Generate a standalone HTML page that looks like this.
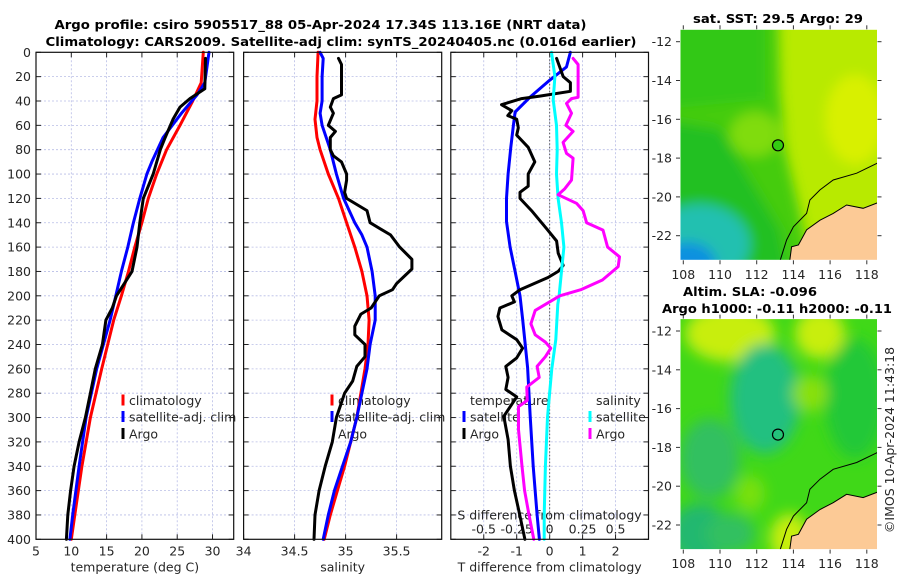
<!DOCTYPE html>
<html><head><meta charset="utf-8"><style>
html,body{margin:0;padding:0;background:#fff;}
svg{display:block;font-family:"DejaVu Sans","Liberation Sans",sans-serif;}
</style></head><body>
<svg id="fig" width="900" height="580" viewBox="0 0 900 580" xmlns="http://www.w3.org/2000/svg">
<defs>
<filter id="blur1" x="-20%" y="-20%" width="140%" height="140%"><feGaussianBlur stdDeviation="6"/></filter>
<filter id="blur2" x="-20%" y="-20%" width="140%" height="140%"><feGaussianBlur stdDeviation="7"/></filter>
<clipPath id="clipMap1"><rect x="680" y="29" width="197.5" height="231"/></clipPath>
<clipPath id="clipMap2"><rect x="680" y="318.5" width="198" height="231.5"/></clipPath>
</defs>
<text x="320.5" y="29" text-anchor="middle" font-weight="bold" font-size="12.5" textLength="532" lengthAdjust="spacingAndGlyphs">Argo profile: csiro 5905517_88 05-Apr-2024 17.34S 113.16E (NRT data)</text>
<text x="341" y="46" text-anchor="middle" font-weight="bold" font-size="12.5" textLength="591" lengthAdjust="spacingAndGlyphs">Climatology: CARS2009. Satellite-adj clim: synTS_20240405.nc (0.016d earlier)</text>
<g id="panels"></g>
<g id="maps"></g>
<text transform="translate(894,440) rotate(-90)" text-anchor="middle" font-size="12.5" fill="#262626">©IMOS 10-Apr-2024 11:43:18</text>
</svg>
<script>
// ---------- DATA ----------
const depthTicks=[0,20,40,60,80,100,120,140,160,180,200,220,240,260,280,300,320,340,360,380,400];
const tempTicks=[5,10,15,20,25,30];
const salTicks=[34,34.5,35,35.5];
const salTickLabels=["34","34.5","35","35.5"];
const tdiffTicks=[-2,-1,0,1,2];
const sdiffTicks=[-0.5,-0.25,0,0.25,0.5];
const sdiffTickLabels=["-0.5","-0.25","0","0.25","0.5"];

const argoTD=[5,30,38,45,55,70,80,100,120,140,160,180,190,200,210,220,240,260,280,300,320,340,360,380,400];
const argoT=[29.0,28.9,26.8,25.4,24.4,23.3,22.6,21.6,20.2,19.7,19.3,18.6,17.5,16.4,15.8,14.9,14.4,13.4,12.7,12.0,11.1,10.4,9.9,9.5,9.3];
const climTD=[0,25,40,60,80,100,120,140,160,180,200,220,260,300,340,380,400];
const climT=[28.7,28.4,27.2,25.4,23.5,22.1,20.9,20.0,19.0,18.1,17.1,16.0,14.3,12.7,11.5,10.5,10.0];
const satTD=[0,25,35,50,70,90,100,120,140,160,180,200,220,260,300,340,380,400];
const satT=[29.5,28.9,27.8,25.6,23.0,21.4,20.7,19.7,18.8,18.0,17.1,16.3,15.5,13.6,12.1,11.1,10.2,9.8];

const argoSD=[5,10,35,38,45,50,60,65,70,80,85,90,100,105,115,120,125,130,140,150,160,170,178,190,195,200,210,215,225,232,240,250,258,270,280,290,300,320,340,360,380,400];
const argoS=[34.93,34.96,34.96,34.88,34.85,34.88,34.83,34.90,34.85,34.85,34.88,34.96,35.01,35.01,34.99,35.01,35.11,35.21,35.24,35.44,35.53,35.65,35.65,35.50,35.46,35.33,35.25,35.15,35.09,35.09,35.19,35.19,35.11,35.07,34.99,34.95,34.91,34.87,34.80,34.74,34.70,34.69];
const climSD=[0,20,40,55,70,80,100,120,140,160,180,200,220,240,260,280,300,320,340,360,380,400];
const climS=[34.73,34.72,34.72,34.70,34.72,34.75,34.83,34.93,35.01,35.09,35.16,35.21,35.23,35.22,35.19,35.15,35.11,35.05,34.99,34.92,34.85,34.79];
const satSD=[0,5,20,40,50,60,80,100,120,140,150,160,180,200,220,240,260,280,300,320,340,360,380,400];
const satS=[34.75,34.78,34.77,34.77,34.75,34.77,34.85,34.91,34.98,35.09,35.16,35.21,35.26,35.29,35.29,35.24,35.21,35.16,35.11,35.05,34.97,34.89,34.83,34.78];

const argoDTd=[5,20,25,32,36,38,43,48,52,55,62,68,78,90,100,110,115,120,130,145,155,165,175,180,185,195,200,205,210,217,228,236,243,251,258,267,277,283,299,318,340,360,376,400];
const argoDT=[0.21,0.41,0.63,0.63,-0.30,-0.85,-1.46,-1.15,-1.27,-1.0,-0.95,-1.0,-0.65,-0.45,-0.65,-0.65,-0.9,-0.9,-0.55,-0.09,0.21,0.26,0.41,0.26,-0.05,-0.9,-1.15,-1.07,-1.51,-1.57,-1.45,-1.0,-0.82,-1.0,-1.33,-1.26,-1.33,-1.0,-1.39,-1.26,-1.19,-1.07,-0.94,-0.75];
const satDTd=[0,12,23,37,49,60,78,100,120,139,160,180,200,219,259,299,340,380,400];
const satDT=[0.63,0.51,0,-0.6,-1.05,-1.1,-1.18,-1.26,-1.31,-1.31,-1.2,-1.05,-0.9,-0.82,-0.67,-0.59,-0.50,-0.38,-0.31];
const satDSd=[0,20,39,60,80,100,120,140,160,180,200,207,236,260,280,300,340,380,400];
const satDS=[0.014,0.04,0.027,0.052,0.057,0.052,0.064,0.09,0.108,0.09,0.072,0.062,0.047,0.016,0,-0.016,-0.032,-0.041,-0.041];
const argoDSd=[5,10,37,38,42,50,60,65,74,83,87,105,112,117,124,130,140,146,160,168,176,187,195,200,212,223,232,238,243,250,258,267,275,286,291,310,340,360,380,400];
const argoDS=[0.178,0.216,0.216,0.166,0.128,0.166,0.123,0.178,0.102,0.128,0.178,0.166,0.115,0.064,0.204,0.254,0.28,0.405,0.44,0.53,0.52,0.40,0.236,0.077,-0.11,-0.142,-0.11,-0.032,0.009,-0.032,-0.095,-0.079,-0.173,-0.17,-0.236,-0.236,-0.21,-0.19,-0.157,-0.12];

const mapLonTicks=[108,110,112,114,116,118];
const mapLatTicks=[-12,-14,-16,-18,-20,-22];
const argoLon=113.16, argoLat=-17.34;
const coastLon=[118.6,117.45,116.17,115.45,114.9,114.72,114.0,113.63,113.27];
const coastLat=[-18.25,-18.78,-19.13,-19.64,-20.16,-20.85,-21.54,-22.22,-23.3];
const landLon=[118.6,117.8,116.9,116.17,115.45,114.72,114.27,113.9,113.8];
const landLat=[-20.3,-20.59,-20.42,-20.85,-21.2,-21.7,-22.48,-22.57,-23.3];

// ---------- HELPERS ----------
const NS="http://www.w3.org/2000/svg";
function mk(tag,attrs,parent){const e=document.createElementNS(NS,tag);for(const k in attrs)e.setAttribute(k,attrs[k]);parent.appendChild(e);return e;}
const Y0=52.3,Y1=539.3;
const yD=d=>Y0+(d/400)*(Y1-Y0);
function linScale(d0,d1,r0,r1){return v=>r0+(v-d0)/(d1-d0)*(r1-r0);}
const panelsG=document.getElementById('panels');
const mapsG=document.getElementById('maps');

function frame(g,x0,x1,xs,ticks,labels,showY,title,name){
  ticks.forEach(t=>{const x=xs(t);if(x>x0+1&&x<x1-1){const l=mk('line',{x1:x,x2:x,y1:Y0,y2:Y1,stroke:'#b8bde6','stroke-width':0.8,'stroke-dasharray':'2,2'},g);
  
  }});
  depthTicks.forEach(d=>{const y=yD(d);if(d>0&&d<400){const l=mk('line',{x1:x0,x2:x1,y1:y,y2:y,stroke:'#b8bde6','stroke-width':0.8,'stroke-dasharray':'2,2'},g);
  
  }
  mk('line',{x1:x0,x2:x0+5,y1:y,y2:y,stroke:'#222','stroke-width':1},g);
  mk('line',{x1:x1-5,x2:x1,y1:y,y2:y,stroke:'#222','stroke-width':1},g);
  if(showY){const t=mk('text',{x:31,y:y,'text-anchor':'end','dominant-baseline':'central','font-size':12.5,fill:'#262626'},g);t.textContent=d;
  
  }});
  ticks.forEach((t,i)=>{const x=xs(t);
    mk('line',{x1:x,x2:x,y1:Y1,y2:Y1-5,stroke:'#222','stroke-width':1},g);
    mk('line',{x1:x,x2:x,y1:Y0,y2:Y0+5,stroke:'#222','stroke-width':1},g);
    const tx=mk('text',{x:x,y:551,'text-anchor':'middle','dominant-baseline':'central','font-size':12.5,fill:'#262626'},g);tx.textContent=labels[i];
    
    });
  const tt=mk('text',{x:(x0+x1)/2,y:567,'text-anchor':'middle','dominant-baseline':'central','font-size':12.5,fill:'#262626'},g);tt.textContent=title;
  
  
}
function border(g,x0,x1,name){const r=mk('rect',{x:x0,y:Y0,width:x1-x0,height:Y1-Y0,fill:'none',stroke:'#111','stroke-width':1.2},g);
  
  }
function series(g,ds,vs,xs,color,name){
  const pts=ds.map((d,i)=>xs(vs[i]).toFixed(1)+','+yD(d).toFixed(1)).join(' ');
  const p=mk('polyline',{points:pts,fill:'none',stroke:color,'stroke-width':3,'stroke-linejoin':'round','stroke-linecap':'round'},g);
  
  
}
function legendEntry(g,x,y,color,label,name){
  if(color){mk('line',{x1:x,x2:x,y1:y-6,y2:y+5,stroke:color,'stroke-width':3},g);}
  const t=mk('text',{x:x+6,y:y,'dominant-baseline':'central','font-size':12.5,fill:'#262626'},g);t.textContent=label;
  
  
}

// ---------- PANEL 1 ----------
const g1=mk('g',{},panelsG);


const xT=linScale(5,33,36,233.7);
frame(g1,36,233.7,xT,tempTicks,tempTicks.map(String),true,'temperature (deg C)','temperature');
legendEntry(g1,123,400.5,'#ff0000','climatology','legend-climatology');
legendEntry(g1,123,417,'#0000ff','satellite-adj. clim','legend-satellite');
legendEntry(g1,123,434,'#000','Argo','legend-argo');
series(g1,climTD,climT,xT,'#ff0000','temp-climatology-line');
series(g1,satTD,satT,xT,'#0000ff','temp-satellite-line');
series(g1,argoTD,argoT,xT,'#000','temp-argo-line');
border(g1,36,233.7,'temperature');

// ---------- PANEL 2 ----------
const g2=mk('g',{},panelsG);


const xS=linScale(34,35,243.6,345.6);
frame(g2,243.6,441.7,xS,salTicks,salTickLabels,false,'salinity','salinity');
legendEntry(g2,332,400.5,'#ff0000','climatology','legend-climatology-s');
legendEntry(g2,332,417,'#0000ff','satellite-adj. clim','legend-satellite-s');
legendEntry(g2,332,434,null,'Argo','legend-argo-s');
series(g2,climSD,climS,xS,'#ff0000','sal-climatology-line');
series(g2,satSD,satS,xS,'#0000ff','sal-satellite-line');
series(g2,argoSD,argoS,xS,'#000','sal-argo-line');
border(g2,243.6,441.7,'salinity');

// ---------- PANEL 3 ----------
const g3=mk('g',{},panelsG);


const xDT=linScale(-3,3,450.8,648.5);
const xDS=linScale(-0.75,0.75,450.8,648.5);
frame(g3,450.8,648.5,xDT,tdiffTicks,tdiffTicks.map(String),false,'T difference from climatology','tdiff');
const zl=mk('line',{x1:xDT(0),x2:xDT(0),y1:Y0,y2:Y1,stroke:'#555','stroke-width':1,'stroke-dasharray':'1.5,2'},g3);


legendEntry(g3,464,400.5,null,'temperature','legend-temperature-header');
legendEntry(g3,464,417,'#0000ff','satellite','legend-t-satellite');
legendEntry(g3,464,434,'#000','Argo','legend-t-argo');
legendEntry(g3,590,400.5,null,'salinity','legend-salinity-header');
legendEntry(g3,590,417,'#00ffff','satellite','legend-s-satellite');
legendEntry(g3,590,434,'#ff00ff','Argo','legend-s-argo');
const st=mk('text',{x:549.5,y:515,'text-anchor':'middle','dominant-baseline':'central','font-size':12.5,fill:'#262626'},g3);st.textContent='S difference from climatology';


sdiffTicks.forEach((t,i)=>{const tx=mk('text',{x:xDS(t),y:529,'text-anchor':'middle','dominant-baseline':'central','font-size':12.5,fill:'#262626'},g3);tx.textContent=sdiffTickLabels[i];
  
  });
series(g3,satDTd,satDT,xDT,'#0000ff','tdiff-satellite-line');
series(g3,argoDTd,argoDT,xDT,'#000','tdiff-argo-line');
series(g3,satDSd,satDS,xDS,'#00ffff','sdiff-satellite-line');
series(g3,argoDSd,argoDS,xDS,'#ff00ff','sdiff-argo-line');
border(g3,450.8,648.5,'difference');

// ---------- MAPS ----------
function drawMap(top,clip,kind,name){
  const g=mk('g',{},mapsG);
  
  
  const L=680,R=L+197.5,B=top+231;
  const lonX=linScale(108,110,683.3,720);
  const latY=linScale(-12,-22,top+12.4,top+206.4);
  const ig=mk('g',{'clip-path':'url(#'+clip+')'},g);
  if(kind===1){
    mk('rect',{x:L,y:top,width:198,height:232,fill:'#b8ea00'},ig);
    const bg=mk('g',{filter:'url(#blur1)'},ig);
    mk('polygon',{points:`${L-20},${top-20} ${L+98},${top-20} ${L+100},${top+60} ${L+105},${top+120} ${L+118},${top+175} ${L+135},${top+250} ${L-20},${top+250}`,fill:'#44cc10'},bg);
    mk('polygon',{points:`${L-20},${top-20} ${L+85},${top-20} ${L+85},${top+70} ${L-20},${top+80}`,fill:'#30c818'},bg);
    mk('polygon',{points:`${L-20},${top+90} ${L+40},${top+100} ${L+70},${top+150} ${L+100},${top+200} ${L+110},${top+250} ${L-20},${top+250}`,fill:'#22c020'},bg);
    mk('ellipse',{cx:L+75,cy:top+105,rx:25,ry:22,fill:'#80dc10'},bg);
    mk('ellipse',{cx:L+20,cy:top+215,rx:50,ry:40,fill:'#20c0b0'},bg);
    mk('ellipse',{cx:L+8,cy:top+235,rx:28,ry:22,fill:'#1090e0'},bg);
    mk('ellipse',{cx:L+175,cy:top+90,rx:30,ry:45,fill:'#d8f000'},bg);
  } else {
    mk('rect',{x:L,y:top,width:198,height:232,fill:'#40d818'},ig);
    const bg=mk('g',{filter:'url(#blur2)'},ig);
    mk('ellipse',{cx:L+50,cy:top+15,rx:45,ry:28,fill:'#c8ee10'},bg);
    mk('ellipse',{cx:L+140,cy:top+15,rx:25,ry:25,fill:'#c8ee10'},bg);
    mk('ellipse',{cx:L+85,cy:top+80,rx:35,ry:55,fill:'#22c080'},bg);
    mk('ellipse',{cx:L+30,cy:top+140,rx:30,ry:40,fill:'#30c060'},bg);
    mk('ellipse',{cx:L+20,cy:top+215,rx:30,ry:30,fill:'#20b870'},bg);
    mk('ellipse',{cx:L+50,cy:top+215,rx:25,ry:20,fill:'#30c060'},bg);
    mk('ellipse',{cx:L+175,cy:top+80,rx:30,ry:60,fill:'#20c838'},bg);
    mk('ellipse',{cx:L+130,cy:top+75,rx:18,ry:18,fill:'#88e010'},bg);
    mk('ellipse',{cx:L+70,cy:top+175,rx:15,ry:18,fill:'#78e010'},bg);
    mk('ellipse',{cx:L+110,cy:top+220,rx:20,ry:25,fill:'#c8ee10'},bg);
  }
  const landPts=landLon.map((lo,i)=>lonX(lo).toFixed(1)+','+latY(landLat[i]).toFixed(1));
  const land=mk('polygon',{points:landPts.join(' ')+` ${R+5},${B+5} ${R+5},${latY(landLat[0])}`,fill:'#fcca96'},ig);
  
  
  mk('polyline',{points:landPts.join(' '),fill:'none',stroke:'#000','stroke-width':1},ig);
  const cl=mk('polyline',{points:coastLon.map((lo,i)=>lonX(lo).toFixed(1)+','+latY(coastLat[i]).toFixed(1)).join(' '),fill:'none',stroke:'#000','stroke-width':1},ig);
  
  
  const mark=mk('circle',{cx:lonX(argoLon),cy:latY(argoLat),r:5.5,fill:kind===1?'#33cc11':'none',stroke:'#000','stroke-width':1.2},g);
  
  
  mk('rect',{x:L,y:top,width:197.5,height:231,fill:'none',stroke:'#fff','stroke-width':1},g);
  mapLonTicks.forEach(lo=>{const x=lonX(lo);
    mk('line',{x1:x,x2:x,y1:B,y2:B+4,stroke:'#333'},g);
    mk('line',{x1:x,x2:x,y1:top,y2:top-4,stroke:'#333'},g);
    const t=mk('text',{x:x,y:B+14,'text-anchor':'middle','dominant-baseline':'central','font-size':12.5,fill:'#262626'},g);t.textContent=lo;
    
    });
  mapLatTicks.forEach(la=>{const y=latY(la);
    mk('line',{x1:L,x2:L-4,y1:y,y2:y,stroke:'#333'},g);
    mk('line',{x1:R,x2:R+4,y1:y,y2:y,stroke:'#333'},g);
    const t=mk('text',{x:672,y:y,'text-anchor':'end','dominant-baseline':'central','font-size':12.5,fill:'#262626'},g);t.textContent=la;
    
    });
  return {g,L,R,top};
}
const m1=drawMap(29.3,'clipMap1',1,'sst-map');
const t1=mk('text',{x:778,y:23,'text-anchor':'middle','font-weight':'bold','font-size':12.5,textLength:170,lengthAdjust:'spacingAndGlyphs'},m1.g);t1.textContent='sat. SST: 29.5 Argo: 29';


const m2=drawMap(318.6,'clipMap2',2,'sla-map');
const t2=mk('text',{x:750,y:296,'text-anchor':'middle','font-weight':'bold','font-size':12.5,textLength:134,lengthAdjust:'spacingAndGlyphs'},m2.g);t2.textContent='Altim. SLA: -0.096';


const t3=mk('text',{x:777,y:313,'text-anchor':'middle','font-weight':'bold','font-size':12.5,textLength:230,lengthAdjust:'spacingAndGlyphs'},m2.g);t3.textContent='Argo h1000: -0.11 h2000: -0.11';


</script>
</body></html>
